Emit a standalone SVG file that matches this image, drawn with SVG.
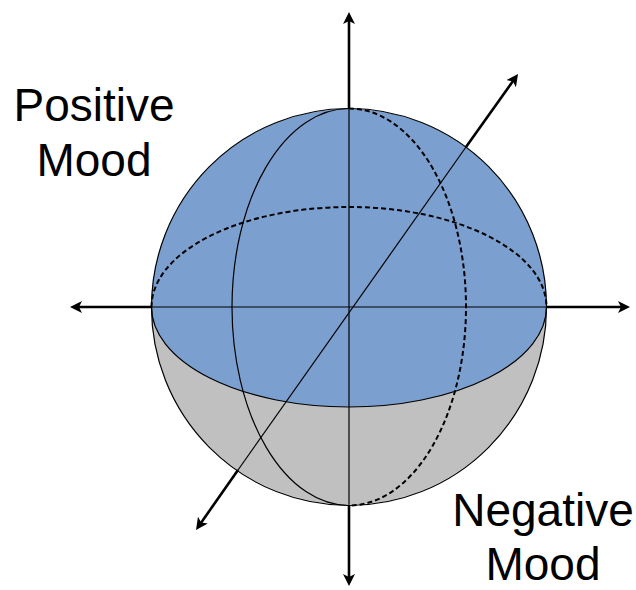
<svg xmlns="http://www.w3.org/2000/svg" width="636" height="590" viewBox="0 0 636 590">
<style>
.thin{stroke:#000;stroke-width:1.2;fill:none}
.dash{stroke:#000;stroke-width:2;fill:none;stroke-dasharray:5 3}
.axis{stroke:#000;stroke-width:2.6;fill:none;marker-end:url(#arr)}
.lbl{font-family:"Liberation Sans",Arial,sans-serif;font-size:46px;fill:#000;text-anchor:middle}
</style>
<defs>
<marker id="arr" markerUnits="userSpaceOnUse" markerWidth="14" markerHeight="14" refX="8" refY="6" orient="auto">
<path d="M0,0 L12,6 L0,12 L3,6 Z" fill="#000"/>
</marker>
</defs>
<g id="sphere">
<circle cx="349" cy="307" r="197.5" fill="#c0c0c0" stroke="none"/>
<path d="M151.5,307 A197.5,198 0 0 1 546.5,307 A197.5,100 0 0 1 151.5,307 Z" fill="#7b9fcf" stroke="none"/>
<path class="thin" d="M151.5,307 A197.5,100 0 0 0 546.5,307"/>
<path class="dash" d="M151.5,307 A197.5,100 0 0 1 546.5,307"/>
<path class="thin" d="M349,108.5 A117,198.5 0 0 0 349,505.5"/>
<path class="dash" d="M349,108.5 A117,198.5 0 0 1 349,505.5"/>
<ellipse class="thin" cx="349" cy="307" rx="197.5" ry="198.5"/>
</g>
<g id="connectors">
<line class="thin" x1="151.5" y1="307" x2="546.5" y2="307"/>
<line class="thin" x1="349" y1="108.5" x2="349" y2="505.5"/>
<line class="thin" x1="238" y1="470" x2="466" y2="147"/>
<line class="axis" x1="349" y1="108.5" x2="349" y2="16"/>
<line class="axis" x1="349" y1="505.5" x2="349" y2="582"/>
<line class="axis" x1="151.5" y1="307" x2="74" y2="307"/>
<line class="axis" x1="546.5" y1="307" x2="626" y2="307"/>
<line class="axis" x1="466" y1="147" x2="515.7" y2="77.2"/>
<line class="axis" x1="238" y1="470" x2="198.3" y2="526.7"/>
</g>
<g id="positive-label">
<text class="lbl" x="94" y="121">Positive</text>
<text class="lbl" x="94" y="176">Mood</text>
</g>
<g id="negative-label">
<text class="lbl" x="543" y="526">Negative</text>
<text class="lbl" x="543" y="580">Mood</text>
</g>
</svg>
